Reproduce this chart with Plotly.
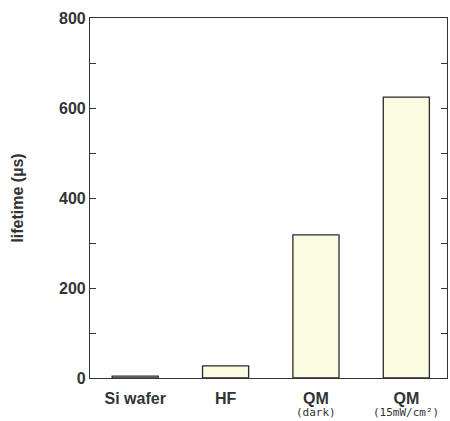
import plotly.graph_objects as go

categories = ["Si wafer", "HF", "QM (dark)", "QM (15mW/cm²)"]
main_labels = ["Si wafer", "HF", "QM", "QM"]
sub_labels = ["", "", "(dark)", "(15mW/cm²)"]
lifetimes = [4, 27, 318, 624]
y_tick_values = [0, 100, 200, 300, 400, 500, 600, 700, 800]
y_tick_text = ["0", "", "200", "", "400", "", "600", "", "800"]

xs = list(range(len(categories)))

fig = go.Figure()
fig.add_trace(go.Bar(
    x=xs,
    y=lifetimes,
    width=0.51,
    marker=dict(color="#fbfbe2", line=dict(color="#2a2a2a", width=1.3)),
))

for x, s in zip(xs, sub_labels):
    if s:
        fig.add_annotation(
            x=x, y=0, xref="x", yref="paper",
            text=s, showarrow=False,
            yanchor="middle", yshift=-34,
            font=dict(family="DejaVu Sans Mono", size=11, color="#333"),
        )

fig.update_layout(
    width=450, height=421,
    margin=dict(l=90, r=3, t=18, b=43),
    paper_bgcolor="white", plot_bgcolor="white",
    showlegend=False,
    font=dict(family="Liberation Sans, Arial", color="#333", size=16),
    xaxis=dict(
        range=[-0.5, 3.45],
        tickvals=xs,
        ticktext=["<b>" + m + "</b>" for m in main_labels],
        ticks="",
        ticklabelstandoff=6,
        showline=True, linecolor="#333", linewidth=1.2,
        mirror=True, showgrid=False, zeroline=False,
        tickfont=dict(size=16),
    ),
    yaxis=dict(
        range=[0, 800],
        tickvals=y_tick_values,
        ticktext=["<b>" + t + "</b>" if t else "" for t in y_tick_text],
        ticks="inside", ticklen=6, tickwidth=1.2, tickcolor="#333",
        showline=True, linecolor="#333", linewidth=1.2,
        mirror="ticks", showgrid=False, zeroline=False,
        tickfont=dict(size=16),
        title=dict(text="<b>lifetime (µs)</b>", font=dict(size=16), standoff=31),
    ),
)

fig.write_html("out.html")
